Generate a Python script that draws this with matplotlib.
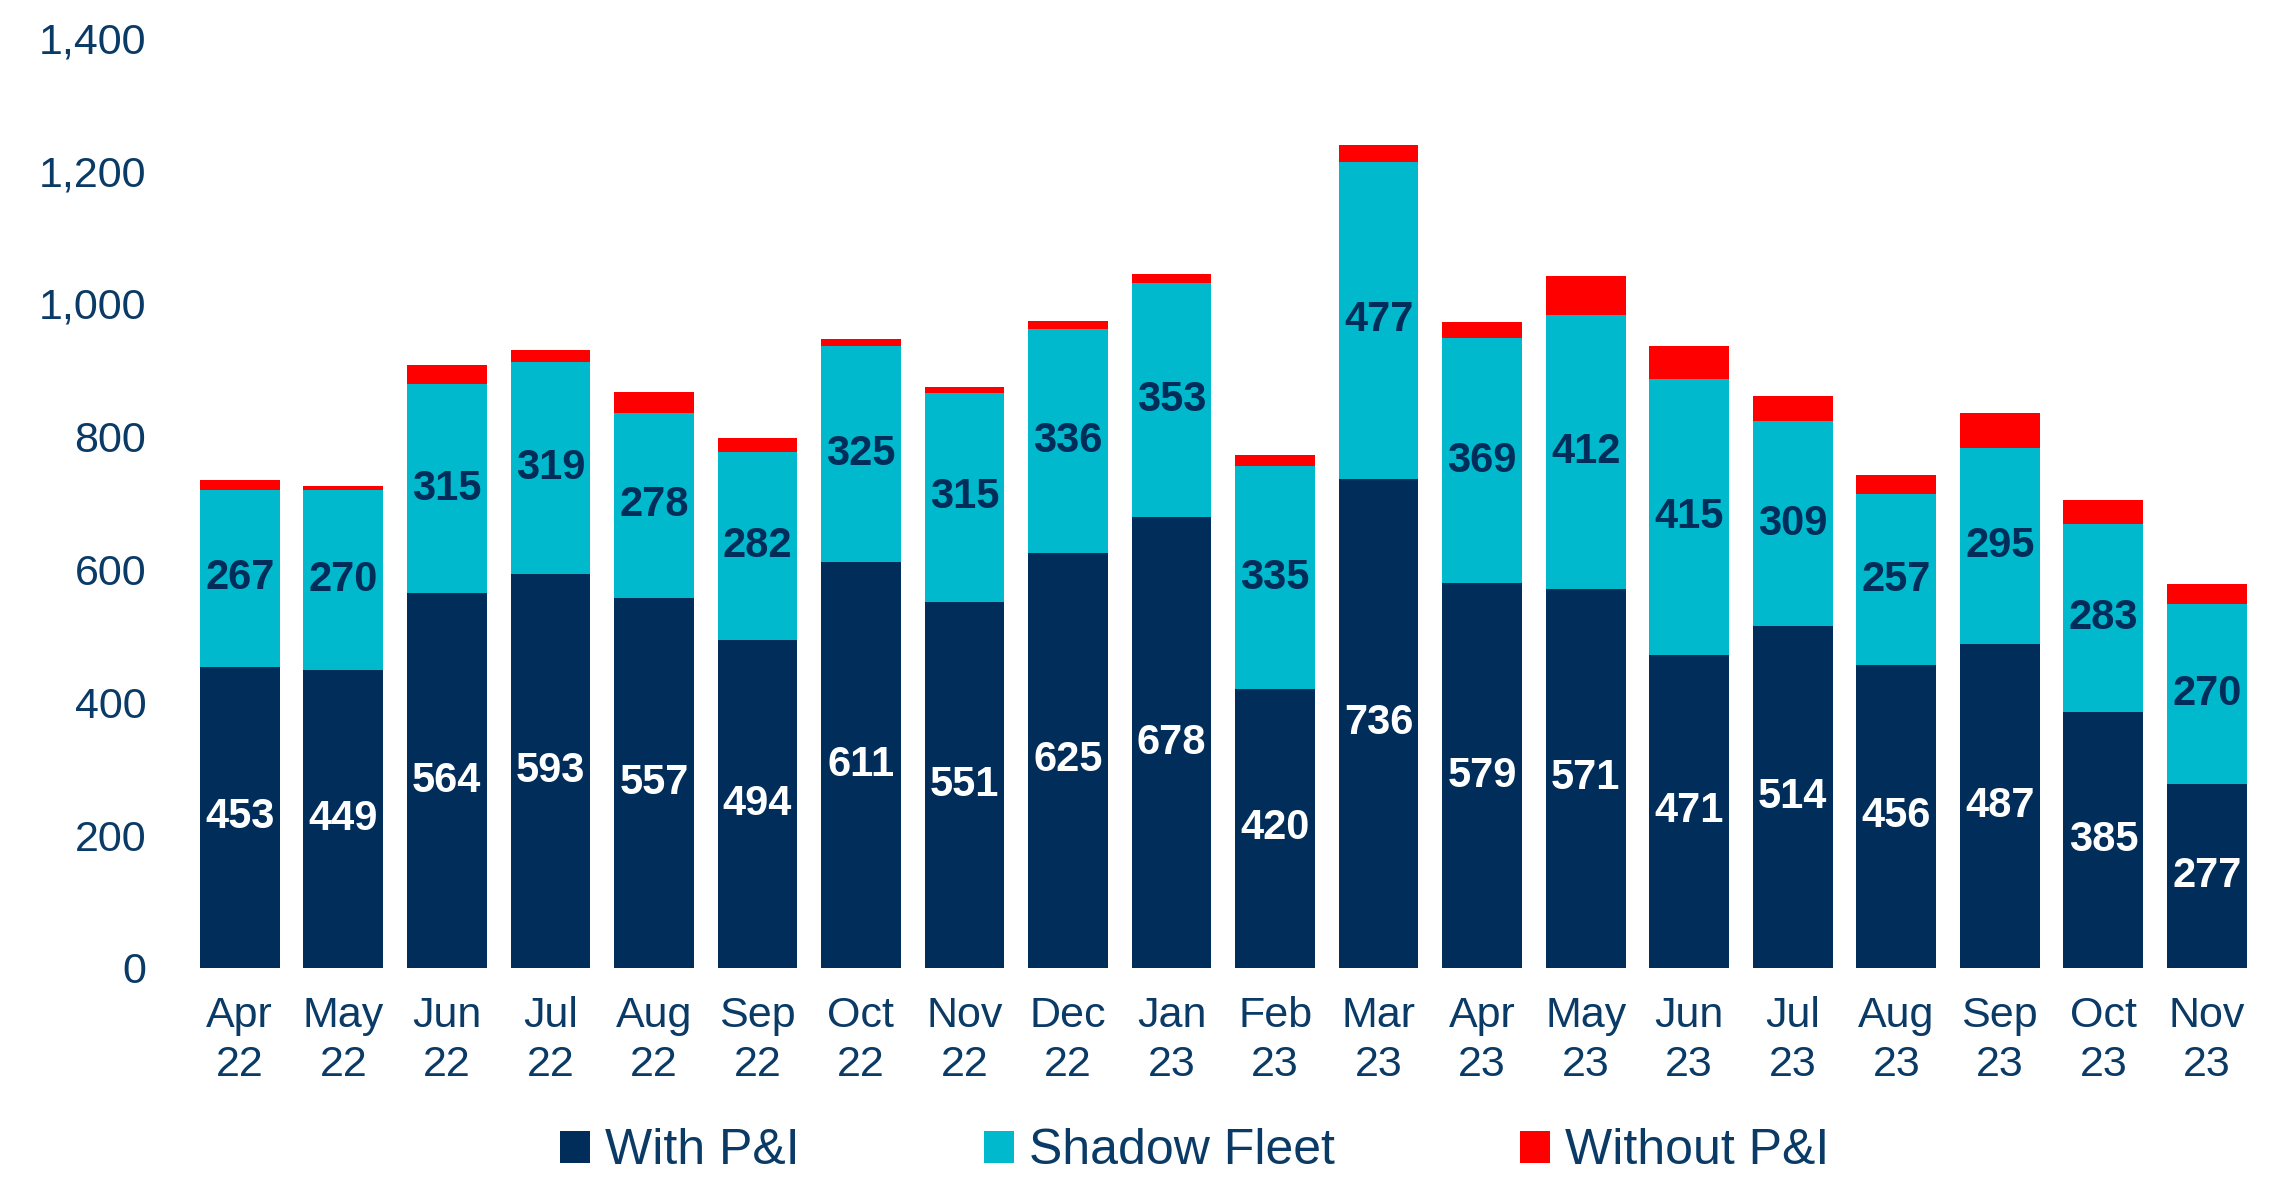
import matplotlib.pyplot as plt
import numpy as np

# data
months = ['Apr\n22', 'May\n22', 'Jun\n22', 'Jul\n22', 'Aug\n22', 'Sep\n22', 'Oct\n22', 'Nov\n22',
          'Dec\n22', 'Jan\n23', 'Feb\n23', 'Mar\n23', 'Apr\n23', 'May\n23', 'Jun\n23', 'Jul\n23',
          'Aug\n23', 'Sep\n23', 'Oct\n23', 'Nov\n23']
with_pi = [453, 449, 564, 593, 557, 494, 611, 551, 625, 678, 420, 736, 579, 571, 471, 514, 456, 487, 385, 277]
shadow_fleet = [267, 270, 315, 319, 278, 282, 325, 315, 336, 353, 335, 477, 369, 412, 415, 309, 257, 295, 283, 270]
without_pi = [15, 7, 28, 18, 32, 21, 10, 8, 13, 14, 17, 26, 24, 58, 50, 37, 29, 53, 36, 31]

navy = '#002d5a'
cyan = '#00b9cc'
red = '#ff0000'
txt = '#0a3a66'

plt.rcParams['font.family'] = ['Liberation Sans', 'DejaVu Sans']

fig = plt.figure(figsize=(22.93, 11.77), dpi=100)
ax = fig.add_axes([0.082, 0.1776, 0.903, 0.7904])

x = np.arange(len(months))
w = 0.77
b1 = ax.bar(x, with_pi, w, color=navy, label='With P&I')
b2 = ax.bar(x, shadow_fleet, w, bottom=with_pi, color=cyan, label='Shadow Fleet')
bottom3 = np.array(with_pi) + np.array(shadow_fleet)
b3 = ax.bar(x, without_pi, w, bottom=bottom3, color=red, label='Without P&I')

ax.bar_label(b1, label_type='center', color='white', fontsize=30, fontweight='bold')
ax.bar_label(b2, label_type='center', color=navy, fontsize=30, fontweight='bold')

ax.set_xlim(-0.5, len(months) - 0.5)
ax.set_ylim(0, 1400)
ax.set_yticks(np.arange(0, 1401, 200))
ax.set_yticklabels(['{:,}'.format(v) for v in range(0, 1401, 200)])
ax.set_xticks(x)
ax.set_xticklabels(months, linespacing=1.3)
ax.tick_params(axis='y', length=0, pad=30, labelsize=31, labelcolor=txt)
ax.tick_params(axis='x', length=0, pad=20, labelsize=31, labelcolor=txt)
for s in ax.spines.values():
    s.set_visible(False)

leg = fig.legend(handles=[b1, b2, b3], loc='lower center', bbox_to_anchor=(0.521, -0.036), ncol=3,
                 frameon=False, fontsize=36, handlelength=0.6, handleheight=0.6,
                 handletextpad=0.3, columnspacing=3.7)
for t in leg.get_texts():
    t.set_color(txt)

fig.savefig('out.png', dpi=100)
